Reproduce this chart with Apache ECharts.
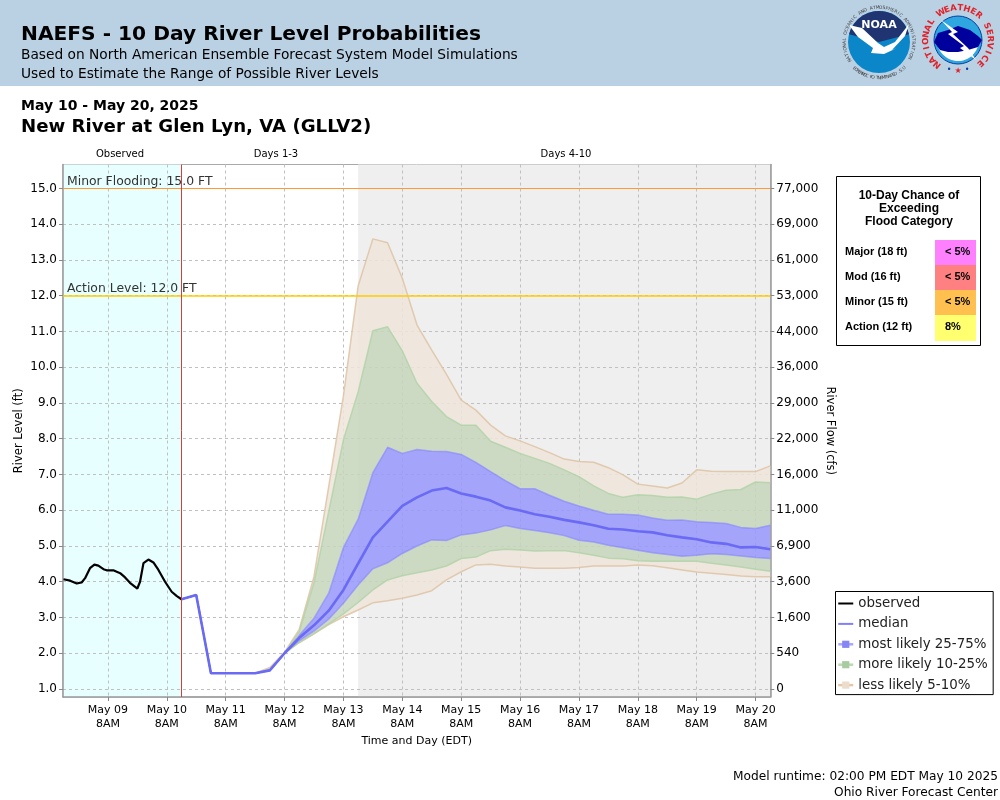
<!DOCTYPE html>
<html><head><meta charset="utf-8">
<style>html,body{margin:0;padding:0;background:#fff}#c{width:1000px;height:800px}</style>
<script src="https://cdn.jsdelivr.net/npm/echarts@6/dist/echarts.min.js"></script>
</head><body><div id="c"></div>
<script>
// ---- data (hours are counted from May 10 8AM EDT) ----
const obsHours = [-42.1,-39.4,-36.7,-34.7,-33.3,-31.3,-29.5,-27.9,-25.8,-24.5,-21.8,-19.0,-17.0,-15.0,-12.0,-10.9,-9.5,-7.5,-5.45,-3.4,-0.7,2.0,4.1,6];
const obsLevel = [4.07,4.03,3.95,3.98,4.10,4.38,4.48,4.45,4.35,4.32,4.32,4.24,4.12,3.97,3.81,4.0,4.52,4.62,4.54,4.33,4.0,3.72,3.6,3.51];
const fcHours = [6,12,18,24,30,36,42,48,54,60,66,72,78,84,90,96,102,108,114,120,126,132,138,144,150,156,162,168,174,180,186,192,198,204,210,216,222,228,234,240,246];
const median = [3.51,3.63,1.44,1.44,1.44,1.44,1.52,2.0,2.43,2.78,3.19,3.77,4.51,5.24,5.68,6.12,6.36,6.55,6.62,6.47,6.38,6.27,6.08,5.99,5.89,5.82,5.73,5.66,5.58,5.48,5.46,5.41,5.38,5.30,5.24,5.19,5.10,5.06,4.96,4.97,4.91];
const p75 = [3.51,3.63,1.44,1.44,1.44,1.44,1.53,2.0,2.5,2.98,3.68,4.96,5.75,7.05,7.76,7.59,7.70,7.65,7.64,7.56,7.34,7.08,6.83,6.60,6.60,6.42,6.25,6.12,6.0,5.89,5.89,5.87,5.78,5.72,5.73,5.68,5.66,5.63,5.52,5.49,5.58];
const p25 = [3.51,3.63,1.44,1.44,1.44,1.44,1.52,2.0,2.35,2.62,2.95,3.4,3.91,4.36,4.53,4.79,5.0,5.17,5.15,5.31,5.36,5.45,5.57,5.49,5.43,5.37,5.29,5.16,5.11,5.02,4.95,4.88,4.81,4.76,4.71,4.74,4.78,4.76,4.72,4.68,4.65];
const p90 = [3.51,3.63,1.44,1.44,1.44,1.44,1.56,2.0,2.6,3.97,5.96,7.97,9.31,11.02,11.13,10.46,9.55,9.04,8.62,8.38,8.38,7.93,7.76,7.59,7.45,7.31,7.13,6.94,6.68,6.47,6.36,6.43,6.41,6.36,6.37,6.31,6.45,6.56,6.58,6.79,6.77];
const p10 = [3.51,3.63,1.44,1.44,1.44,1.44,1.52,2.0,2.3,2.55,2.82,3.1,3.42,3.77,4.05,4.17,4.25,4.33,4.44,4.65,4.69,4.87,4.91,4.89,4.86,4.87,4.87,4.81,4.74,4.66,4.64,4.59,4.57,4.57,4.57,4.57,4.52,4.47,4.41,4.35,4.29];
const p95 = [3.51,3.63,1.44,1.44,1.44,1.44,1.6,2.03,2.67,4.14,6.66,9.2,12.27,13.59,13.48,12.49,11.18,10.48,9.8,9.08,8.8,8.38,8.08,7.94,7.78,7.61,7.43,7.36,7.34,7.19,6.99,6.73,6.68,6.62,6.76,7.13,7.09,7.08,7.08,7.08,7.24];
const p5 = [3.51,3.63,1.44,1.44,1.44,1.44,1.52,2.0,2.3,2.54,2.8,3.02,3.21,3.41,3.47,3.54,3.63,3.75,4.05,4.28,4.47,4.49,4.44,4.41,4.38,4.38,4.38,4.4,4.44,4.44,4.44,4.47,4.45,4.39,4.33,4.27,4.24,4.2,4.16,4.14,4.14];
const stageTicks = [1,2,3,4,5,6,7,8,9,10,11,12,13,14,15];
const flowLabels = ['0','540','1,600','3,600','6,900','11,000','16,000','22,000','29,000','36,000','44,000','53,000','61,000','69,000','77,000'];
const dayHours = [-24,0,24,48,72,96,120,144,168,192,216,240];
const dayLabels = ['May 09','May 10','May 11','May 12','May 13','May 14','May 15','May 16','May 17','May 18','May 19','May 20'];
const floodCats = ['Major (18 ft)','Mod (16 ft)','Minor (15 ft)','Action (12 ft)'];
const floodChance = ['< 5%','< 5%','< 5%','8%'];
const floodColors = ['#ff80ff','#ff8080','#ffc050','#ffff70'];

const FONT = '"DejaVu Sans"', SERIF = '"Liberation Sans"';
const TAN='rgba(239,229,218,0.85)', GREEN='rgba(197,214,188,0.85)', BLUE='rgba(150,150,252,0.85)';
const TANL='rgba(222,195,165,0.85)', GREENL='rgba(175,210,165,0.8)', BLUEL='rgba(125,125,255,0.55)';
const NAMES = {obs:'observed',med:'median',b:'most likely 25-75%',g:'more likely 10-25%',t:'less likely 5-10%'};

// filled ring between two percentile curves, placed through the axes
function fill(upper, lower, color) {
  return {
    type:'custom', coordinateSystem:'cartesian2d', silent:true, z:2, clip:true,
    encode:{x:0,y:[1,2]},
    data: fcHours.map((h,i)=>[h,upper[i],lower[i]]),
    renderItem(params, api) {
      if (params.dataIndex !== 0) return null;
      const n = params.dataInsideLength, top = [], bot = [];
      for (let k=0;k<n;k++) {
        top.push(api.coord([api.value(0,k), api.value(1,k)]));
        bot.unshift(api.coord([api.value(0,k), api.value(2,k)]));
      }
      return {type:'polygon', shape:{points:top.concat(bot)}, style:{fill:color}};
    }
  };
}
function edge(name, values, color) {
  return {name, type:'line', symbol:'rect', showSymbol:false, silent:true, z:2.5,
    itemStyle:{color}, lineStyle:{color,width:1.5},
    data:fcHours.map((h,i)=>[h,values[i]])};
}
const helper = {
  name:'zones', type:'line', data:[], silent:true, z:1,
  markArea:{silent:true, z:1, data:[
    [{xAxis:-42.3,itemStyle:{color:'#e8ffff'}},{xAxis:6}],
    [{xAxis:78,itemStyle:{color:'#efefef'}},{xAxis:246}]
  ]}
};
const floodLines = {
  name:'flood', type:'line', data:[], silent:true, z:4,
  markLine:{silent:true, symbol:'none', z:4, animation:false, data:[
    {yAxis:15,lineStyle:{color:'#ff9933',width:1.1,type:'solid'},label:{formatter:'Minor Flooding: 15.0 FT'}},
    {yAxis:12,lineStyle:{color:'#ffcc00',width:1.5,type:'solid'},label:{formatter:'Action Level: 12.0 FT'}},
    {xAxis:6,lineStyle:{color:'#d33f3f',width:1,type:'solid'},label:{show:false}}
  ], label:{show:true,position:'insideStartTop',distance:[4,1],color:'#333',fontFamily:FONT,fontSize:12.4}}
};

function ringText(str,cx,cy,r,startDeg,stepDeg,font,color){
  return str.split('').map((ch,i)=>{
    const a=(startDeg+i*stepDeg)*Math.PI/180;
    return {type:'text',x:cx+r*Math.sin(a),y:cy-r*Math.cos(a),rotation:-a,z:20,
      style:{text:ch,font,fill:color,align:'center',verticalAlign:'middle'}};
  });
}
function T(text,x,y,font,opt){
  return {type:'text',x,y,z:20,style:Object.assign({text,font,fill:'#000',align:'left',verticalAlign:'middle'},opt||{})};
}
function R(x,y,w,h,color,stroke){
  return {type:'rect',z:15,shape:{x,y,width:w,height:h},style:{fill:color,stroke:stroke||null,lineWidth:stroke?1:0}};
}
const graphics = [
  R(0,0,1000,86,'#bad1e4'),
  T('NAEFS - 10 Day River Level Probabilities',21,34.5,`bold 20.2px ${FONT}`),
  T('Based on North American Ensemble Forecast System Model Simulations',21,55,`13.75px ${FONT}`),
  T('Used to Estimate the Range of Possible River Levels',21,74,`13.75px ${FONT}`),
  T('May 10 - May 20, 2025',21,106,`bold 14px ${FONT}`),
  T('New River at Glen Lyn, VA (GLLV2)',21,127,`bold 18.15px ${FONT}`),
  T('Observed',120,154,`10px ${FONT}`,{align:'center'}),
  T('Days 1-3',276,154,`10px ${FONT}`,{align:'center'}),
  T('Days 4-10',566,154,`10px ${FONT}`,{align:'center'}),
  T('Model runtime: 02:00 PM EDT May 10 2025',998,777,`12.2px ${FONT}`,{align:'right'}),
  T('Ohio River Forecast Center',998,793,`12.2px ${FONT}`,{align:'right'}),
  R(836.5,176.5,144,169,'#fff','#000'),
  T('10-Day Chance of',909,196,`bold 12px ${SERIF}`,{align:'center'}),
  T('Exceeding',909,209,`bold 12px ${SERIF}`,{align:'center'}),
  T('Flood Category',909,222,`bold 12px ${SERIF}`,{align:'center'})
];
floodCats.forEach((c,i)=>{
  const y=240+i*25;
  graphics.push(R(935,y,41,i===3?26:25,floodColors[i]));
  graphics.push(T(c,845,y+11.5,`bold 11px ${SERIF}`));
  graphics.push(T(floodChance[i],945,y+11.5,`bold 11px ${SERIF}`));
});
// NOAA emblem
graphics.push(
  {type:'circle',z:15,shape:{cx:879,cy:42,r:31},style:{fill:'#0b86c9'}},
  {type:'sector',z:16,shape:{cx:879,cy:42,r:31,r0:0,startAngle:Math.PI*1.08,endAngle:Math.PI*1.92},style:{fill:'#1f3470'}},
  {type:'polygon',z:17,shape:{points:[[849,25],[862,28],[878,43],[884,47],[895,42],[909,24],[905,36],[892,50],[897,48],[884,54],[871,53],[873,48],[858,37]]},style:{fill:'#fff'}},
  T('NOAA',879,25,`bold 11px ${FONT}`,{align:'center',fill:'#fff'})
);
graphics.push(...ringText('NATIONAL OCEANIC AND ATMOSPHERIC ADMINISTRATION',879,42,34.5,-122,5.2,`4.5px ${FONT}`,'#444'));
graphics.push(...ringText('U.S. DEPARTMENT OF COMMERCE',879,42,-36,-44,3.35,`4.5px ${FONT}`,'#444'));
// NWS emblem
graphics.push(
  {type:'circle',z:15,shape:{cx:958,cy:40,r:24},style:{fill:'#2ea6df',stroke:'#0a3ea0',lineWidth:1}},
  {type:'sector',z:16,shape:{cx:958,cy:40,r:21,r0:0,startAngle:0.15,endAngle:Math.PI-0.15},style:{fill:'#fff'}},
  {type:'polygon',z:17,shape:{points:[[934,42],[938,33],[948,30],[958,26],[970,30],[978,36],[982,40],[978,47],[968,50],[958,52],[948,52],[940,50]]},style:{fill:'#00009c'}},
  {type:'polygon',z:18,shape:{points:[[941,20],[958,32],[953,34],[968,48],[976,60],[960,48],[964,46],[948,34],[952,32]]},style:{fill:'#fff'}}
);
graphics.push(...ringText('NATIONAL WEATHER SERVICE',958,40,32,-140,12,`bold 8.5px ${FONT}`,'#e0222a'));
graphics.push(T('\u2605',958,71,`8px ${FONT}`,{align:'center',fill:'#e0222a'}));
graphics.push(T('\u2022',949,70,`8px ${FONT}`,{align:'center',fill:'#0a3ea0'}));
graphics.push(T('\u2022',967,70,`8px ${FONT}`,{align:'center',fill:'#0a3ea0'}));

const gridLine = {show:true,lineStyle:{color:'#c0c0c0',type:[3,3],width:1}};
const axisLine = {show:true,onZero:false,lineStyle:{color:'#999',width:1.5}};
const tickStyle = {show:true,length:4,inside:false,lineStyle:{color:'#888',width:1}};

const option = {
  animation:false,
  backgroundColor:'#fff',
  grid:{left:63,top:164.5,width:707.3,height:532.5,show:true,borderColor:'#aaa',borderWidth:1,backgroundColor:'transparent',containLabel:false,outerBoundsMode:'none'},
  xAxis:{type:'value',min:-42.3,max:246,z:1.5,
    name:'Time and Day (EDT)',nameLocation:'middle',nameGap:37,nameTextStyle:{fontFamily:FONT,fontSize:11,color:'#000'},
    axisLine,splitLine:gridLine,
    axisTick:Object.assign({customValues:dayHours},tickStyle),
    axisLabel:{customValues:dayHours,margin:6,lineHeight:14,fontFamily:FONT,fontSize:11,color:'#000',
      formatter:v=>dayLabels[dayHours.indexOf(v)]+'\n8AM'}
  },
  yAxis:[
    {type:'value',min:0.776,max:15.67,z:1.5,
      name:'River Level (ft)',nameLocation:'middle',nameGap:38,nameMoveOverlap:false,nameTextStyle:{fontFamily:FONT,fontSize:11.5,color:'#000'},
      axisLine,splitLine:gridLine,
      axisTick:Object.assign({customValues:stageTicks},tickStyle),
      axisLabel:{customValues:stageTicks,margin:6,fontFamily:FONT,fontSize:12,color:'#000',formatter:v=>v.toFixed(1)}},
    {type:'value',min:0.776,max:15.67,position:'right',z:1.5,
      name:'River Flow (cfs)',nameLocation:'middle',nameGap:54,nameMoveOverlap:false,nameRotate:-90,nameTextStyle:{fontFamily:FONT,fontSize:11.5,color:'#000'},
      axisLine,splitLine:{show:false},
      axisTick:Object.assign({customValues:stageTicks},tickStyle),
      axisLabel:{customValues:stageTicks,margin:6,fontFamily:FONT,fontSize:12,color:'#000',
        formatter:v=>flowLabels[stageTicks.indexOf(v)]}}
  ],
  legend:{
    orient:'vertical',left:835.5,top:591.5,padding:[5.5,5.5,3,1.5],backgroundColor:'#fff',
    borderColor:'#000',borderWidth:1,borderRadius:0,itemWidth:15,itemHeight:9,itemGap:7.4,
    textStyle:{fontFamily:FONT,fontSize:13.4,color:'#222'},selectedMode:false,
    data:[
      {name:NAMES.obs,itemStyle:{color:'transparent'},lineStyle:{color:'#000',width:2}},
      {name:NAMES.med,itemStyle:{color:'transparent'},lineStyle:{color:'#8080f8',width:2}},
      {name:NAMES.b,itemStyle:{color:'#8585f5'},lineStyle:{color:'#a8a8ff',width:2.5}},
      {name:NAMES.g,itemStyle:{color:'#a8cca0'},lineStyle:{color:'#bcd8b4',width:2.5}},
      {name:NAMES.t,itemStyle:{color:'#ecdccb'},lineStyle:{color:'#e2c8ac',width:2.5}}
    ]
  },
  graphic:{elements:graphics},
  series:[
    helper,
    fill(p95,p90,TAN), fill(p10,p5,TAN),
    fill(p90,p75,GREEN), fill(p25,p10,GREEN),
    fill(p75,p25,BLUE),
    edge(NAMES.t,p5,TANL), edge(NAMES.t,p95,TANL),
    edge(NAMES.g,p10,GREENL), edge(NAMES.g,p90,GREENL),
    edge(NAMES.b,p25,BLUEL), edge(NAMES.b,p75,BLUEL),
    {name:NAMES.med,type:'line',symbol:'none',z:3,silent:true,itemStyle:{color:'#6a6af5'},lineStyle:{color:'#6a6af5',width:2.6},
      data:fcHours.map((h,i)=>[h,median[i]])},
    {name:NAMES.obs,type:'line',symbol:'none',z:3,silent:true,itemStyle:{color:'#000'},lineStyle:{color:'#000',width:2.2},
      data:obsHours.map((h,i)=>[h,obsLevel[i]])},
    floodLines
  ]
};
echarts.init(document.getElementById('c'),null,{renderer:'canvas'}).setOption(option);
</script></body></html>
